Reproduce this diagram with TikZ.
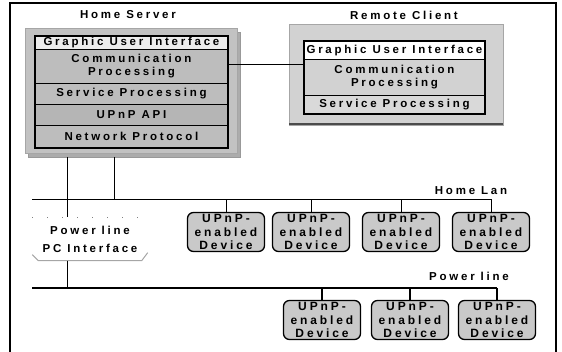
\documentclass[tikz,border=0pt]{standalone}
\usepackage{fontspec}
\setmainfont{Liberation Sans}[LetterSpace=24]
\begin{document}
\begin{tikzpicture}[x=1pt,y=-1pt,
  txt/.style={font=\bfseries\fontsize{11.5}{13}\selectfont, align=center, inner sep=0pt},
  hrow/.style={txt, draw=black, line width=0.9pt, minimum width=192pt, anchor=north west},
  rrow/.style={txt, draw=black, line width=0.9pt, minimum width=180pt, anchor=north west},
  panel/.style={anchor=north west, inner sep=0pt},
  dev/.style={txt, font=\bfseries\fontsize{12}{13.5}\selectfont, draw=black, line width=1.3pt,
    rounded corners=6pt, fill=gray!42, minimum width=77pt, minimum height=39pt},
  wire/.style={line width=0.8pt},
  bus/.style={line width=1.5pt}]
\useasboundingbox (0,0) rectangle (562,352);
% frame
\draw[line width=1.8pt] (10,352) -- (10,3) -- (556,3) -- (556,352);
% titles
\node[txt] (hstitle) at (128,15) {Home Server};
\node[txt] (rctitle) at (404,15) {Remote Client};
% home server panels
\node[panel, fill=gray!65, draw=gray!80, minimum width=212pt, minimum height=125pt] (hsshadow) at (28,32) {};
\node[panel, fill=gray!48, draw=gray!70, minimum width=212pt, minimum height=125pt] (hspanel) at (25,28) {};
\node[hrow, fill=gray!15, minimum height=13pt] (hgui) at (35,36) {Graphic User Interface};
\node[hrow, fill=gray!52, minimum height=34pt] (hcomm) at (35,49) {Communication\\Processing};
\node[hrow, fill=gray!52, minimum height=21pt] (hserv) at (35,83) {Service Processing};
\node[hrow, fill=gray!58, minimum height=21pt] (hapi) at (35,104) {UPnP API};
\node[hrow, fill=gray!52, minimum height=22pt] (hnet) at (35,125) {Network Protocol};
\draw[line width=1.8pt] (hgui.north west) rectangle (hnet.south east);
% remote client panels
\node[panel, fill=gray!35, draw=gray!70, minimum width=214pt, minimum height=101pt] (rcpanel) at (289,24) {};
\draw[gray!60!black, line width=2pt] ([yshift=1pt]rcpanel.south west) -- ([yshift=1pt]rcpanel.south east);
\node[rrow, fill=white, minimum height=18pt] (rgui) at (304,41) {Graphic User Interface};
\node[rrow, fill=gray!35, minimum height=36pt] (rcomm) at (304,59) {Communication\\Processing};
\node[rrow, fill=gray!30, minimum height=18pt] (rserv) at (304,95) {Service Processing};
\draw[line width=1.8pt] (rgui.north west) rectangle (rserv.south east);
% link between communication layers
\draw[wire] ([yshift=2pt]hcomm.east) -- ([yshift=2pt]hcomm.east -| rcomm.west);
% home lan
\node[txt] (lanlbl) at (471,191) {Home Lan};
\coordinate (lanL) at (32,199);
\coordinate (s1) at (67,157);
\coordinate (s2) at (114,157);
\node[dev] (d1) at (226,232) {UPnP-\\enabled\\Device};
\node[dev] (d2) at (311,232) {UPnP-\\enabled\\Device};
\node[dev] (d3) at (401,232) {UPnP-\\enabled\\Device};
\node[dev] (d4) at (491,232) {UPnP-\\enabled\\Device};
\draw[wire] (lanL) -- (lanL -| d4.north);
\foreach \d in {d1,d2,d3,d4} \draw[wire] (\d.north) -- (\d.north |- lanL);
\draw[wire] (s2) -- (s2 |- lanL);
% power line PC interface
\node[txt, minimum width=115pt, minimum height=43pt] (pcif) at (90,239) {Power line\\[5pt]PC Interface};
\draw[gray, line width=0.8pt, dash pattern=on 1pt off 14pt] (pcif.north west) -- (pcif.north east);
\draw[gray!70, line width=1pt] ([yshift=6pt]pcif.south west) -- ([xshift=6pt]pcif.south west)
  -- ([xshift=-6pt]pcif.south east) -- ([yshift=8pt]pcif.south east);
\draw[wire] (s1) -- (s1 |- pcif.north);
% power line
\node[txt] (pllbl) at (469,276) {Power line};
\coordinate (plL) at (32,288);
\node[dev] (p1) at (322,320) {UPnP-\\enabled\\Device};
\node[dev] (p2) at (410,320) {UPnP-\\enabled\\Device};
\node[dev] (p3) at (497,320) {UPnP-\\enabled\\Device};
\draw[bus] (plL) -- (plL -| p3.north);
\foreach \d in {p1,p2,p3} \draw[bus] (\d.north) -- (\d.north |- plL);
\draw[wire] (s1 |- pcif.south) -- (s1 |- plL);
\end{tikzpicture}
\end{document}
